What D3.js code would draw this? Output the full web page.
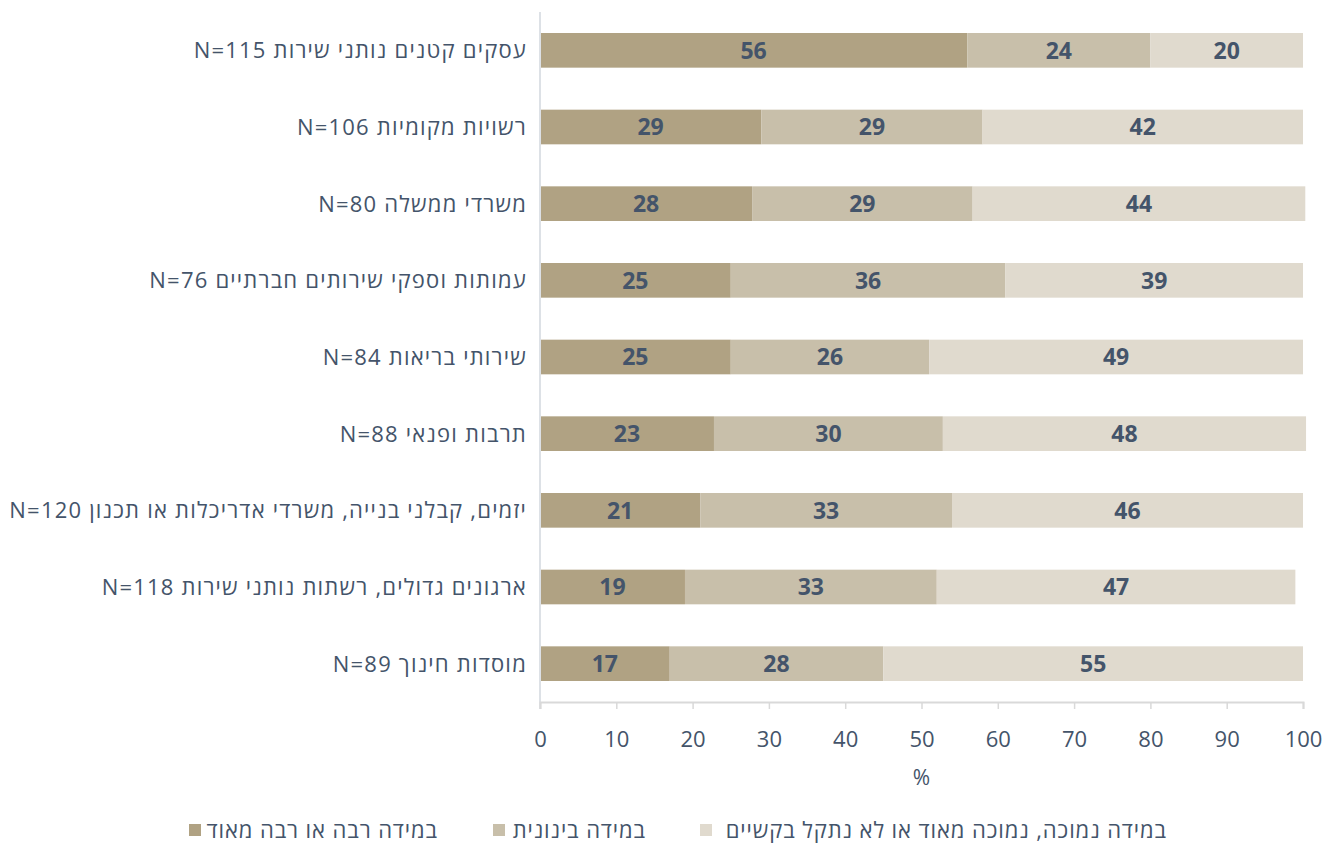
<!DOCTYPE html>
<html>
<head>
<meta charset="utf-8">
<script src="https://cdn.jsdelivr.net/npm/d3@7"></script>
<style>
  html, body { margin: 0; padding: 0; background: #ffffff; }
  svg { display: block; font-family: "Open Sans", "DejaVu Sans", sans-serif; }
</style>
</head>
<body>
<svg id="chart" width="1326" height="860"></svg>
<script>
// ---- data ----
const categories = [
  "עסקים קטנים נותני שירות N=115",
  "רשויות מקומיות N=106",
  "משרדי ממשלה N=80",
  "עמותות וספקי שירותים חברתיים N=76",
  "שירותי בריאות N=84",
  "תרבות ופנאי N=88",
  "יזמים, קבלני בנייה, משרדי אדריכלות או תכנון N=120",
  "ארגונים גדולים, רשתות נותני שירות N=118",
  "מוסדות חינוך N=89"
];
const seriesNames = [
  "במידה רבה או רבה מאוד",
  "במידה בינונית",
  "במידה נמוכה, נמוכה מאוד או לא נתקל בקשיים"
];
const highValues   = [56, 29, 27.8, 25, 25, 22.8, 21, 19, 17];
const mediumValues = [24, 29, 28.9, 36, 26, 30.0, 33, 33, 28];
const lowValues    = [20, 42, 43.6, 39, 49, 47.6, 46, 47, 55];
const xTicks = [0, 10, 20, 30, 40, 50, 60, 70, 80, 90, 100];
const xAxisTitle = "%";

// ---- layout ----
const colors = ["#b0a283", "#c8bfaa", "#e0dace"];
const textColor = "#44546a";
const mLeft = 540, mRight = 1303, mTop = 12, mBottom = 702;

const svg = d3.select("#chart");

const x = d3.scaleLinear().domain([0, 100]).range([mLeft, mRight]);
const y = d3.scaleBand().domain(categories).range([mTop, mBottom])
  .paddingInner(0.548).paddingOuter(0.274);

const rows = categories.map((c, i) => {
  const vals = [highValues[i], mediumValues[i], lowValues[i]];
  let acc = 0;
  return vals.map((v, k) => {
    const seg = { cat: c, k, v, x0: acc, x1: acc + v };
    acc += v;
    return seg;
  });
});

// bars
const g = svg.append("g");
rows.forEach(segs => {
  g.selectAll(null).data(segs).enter().append("rect")
    .attr("x", d => x(d.x0))
    .attr("y", d => y(d.cat))
    .attr("width", d => x(d.x1) - x(d.x0))
    .attr("height", y.bandwidth())
    .attr("fill", d => colors[d.k]);
  g.selectAll(null).data(segs).enter().append("text")
    .attr("x", d => (x(d.x0) + x(d.x1)) / 2)
    .attr("y", d => y(d.cat) + y.bandwidth() / 2)
    .attr("dy", "0.36em")
    .attr("text-anchor", "middle")
    .attr("font-size", 23)
    .attr("font-weight", 700)
    .attr("fill", textColor)
    .text(d => Math.round(d.v));
});

// vertical axis line
svg.append("line")
  .attr("x1", mLeft).attr("x2", mLeft)
  .attr("y1", mTop).attr("y2", mBottom + 7)
  .attr("stroke", "#dde1e6").attr("stroke-width", 2);

// category labels
svg.append("g").selectAll("text").data(categories).enter().append("text")
  .attr("x", 527)
  .attr("y", d => y(d) + y.bandwidth() / 2)
  .attr("dy", "0.36em")
  .attr("direction", "rtl")
  .attr("text-anchor", "start")
  .attr("font-size", 22)
  .attr("letter-spacing", 1.2)
  .attr("fill", textColor)
  .text(d => d);

// x axis
const xAxis = d3.axisBottom(x).tickValues(xTicks).tickSize(7).tickPadding(22).tickFormat(d3.format("d"));
const ax = svg.append("g").attr("transform", `translate(0,${mBottom})`).call(xAxis);
ax.select(".domain").attr("stroke", "#d9d9d9").attr("stroke-width", 2);
ax.selectAll(".tick line").attr("stroke", "#d9d9d9").attr("stroke-width", 1.5);
ax.selectAll(".tick text").attr("font-size", 22).attr("fill", textColor)
  .attr("font-family", "\"Open Sans\", sans-serif");

svg.append("text")
  .attr("x", (mLeft + mRight) / 2)
  .attr("y", 785)
  .attr("text-anchor", "middle")
  .attr("font-size", 21)
  .attr("fill", textColor)
  .text(xAxisTitle);

// legend
const legendItems = [
  { name: seriesNames[2], color: colors[2], sw: 700, tx: 1167 },
  { name: seriesNames[1], color: colors[1], sw: 493, tx: 646 },
  { name: seriesNames[0], color: colors[0], sw: 189, tx: 438 }
];
const lg = svg.append("g");
legendItems.forEach(it => {
  lg.append("rect").attr("x", it.sw).attr("y", 824).attr("width", 12).attr("height", 12).attr("fill", it.color);
  lg.append("text")
    .attr("x", it.tx).attr("y", 830).attr("dy", "0.36em")
    .attr("direction", "rtl").attr("text-anchor", "start")
    .attr("font-size", 22).attr("letter-spacing", 0.9)
    .attr("fill", textColor)
    .text(it.name);
});
</script>
</body>
</html>
